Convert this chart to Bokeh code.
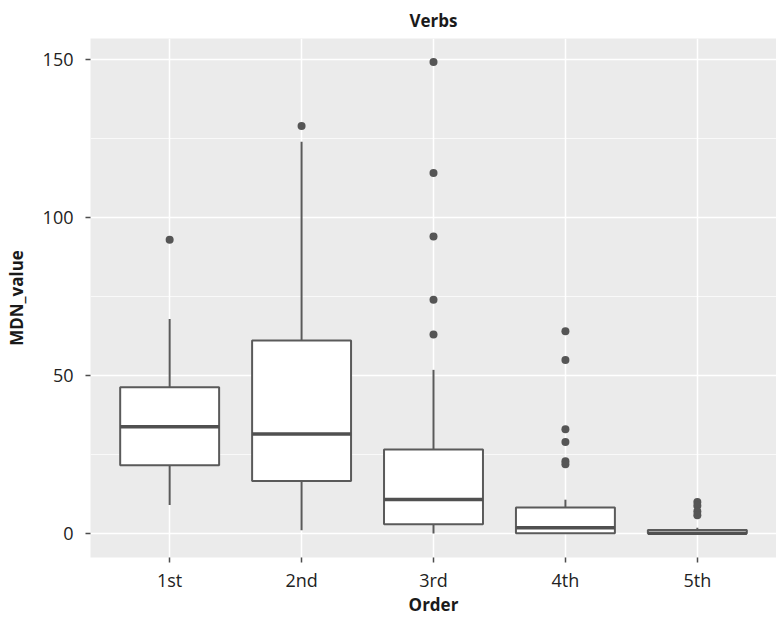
from bokeh.plotting import figure
from bokeh.models import FactorRange, Range1d, FixedTicker, ColumnDataSource
from bokeh.embed import file_html
from bokeh.resources import INLINE

# ---- data ----
orders = ["1st", "2nd", "3rd", "4th", "5th"]
whisker_low = [9, 1, 0, 0, 0]
q1 = [21.6, 16.6, 2.9, 0.1, 0]
median = [33.8, 31.5, 10.8, 1.8, 0.1]
q3 = [46.3, 61.1, 26.6, 8.2, 1.1]
whisker_high = [67.9, 124, 51.8, 10.7, 1.8]

outlier_order = ["1st", "2nd", "3rd", "3rd", "3rd", "3rd", "3rd",
                 "4th", "4th", "4th", "4th", "4th", "4th",
                 "5th", "5th", "5th", "5th"]
outlier_value = [93, 129, 149.3, 114.1, 94.0, 74.0, 63.0,
                 64.0, 54.9, 33.0, 29.0, 22.9, 21.9,
                 10.0, 8.8, 7.0, 5.8]

y_ticks = [0, 50, 100, 150]
y_minor = [25, 75, 125]

FONT = "Open Sans"
LINE = "#5a5a5a"

p = figure(
    x_range=FactorRange(factors=orders, range_padding=0.1, range_padding_units="absolute"),
    y_range=Range1d(-7.6, 156.7),
    width=776, height=618,
    output_backend="svg", toolbar_location=None,
    title="Verbs",
    min_border_left=90, min_border_right=0, min_border_top=38, min_border_bottom=50,
)

p.background_fill_color = "#EBEBEB"
p.border_fill_color = "white"
p.outline_line_color = None

p.title.align = "center"
p.title.vertical_align = "top"
p.title.text_font = FONT
p.title.text_font_size = "17px"
p.title.text_font_style = "bold"
p.title.text_color = "#1a1a1a"

src = ColumnDataSource(dict(x=orders, lo=whisker_low, q1=q1, med=median, q3=q3, hi=whisker_high))

# whiskers
p.segment(x0="x", y0="q3", x1="x", y1="hi", source=src, line_color=LINE, line_width=2)
p.segment(x0="x", y0="lo", x1="x", y1="q1", source=src, line_color=LINE, line_width=2)
# boxes
p.vbar(x="x", bottom="q1", top="q3", width=0.75, source=src,
       fill_color="white", line_color=LINE, line_width=2)
# medians
p.vbar(x="x", bottom="med", top="med", width=0.75, source=src,
       fill_color=None, line_color="#505050", line_width=3.5)
# outliers
p.scatter(x=outlier_order, y=outlier_value, size=8, fill_color="#555555", line_color=None)

# axes
p.yaxis.ticker = FixedTicker(ticks=y_ticks, minor_ticks=y_minor)
for ax in (p.xaxis[0], p.yaxis[0]):
    ax.axis_line_color = None
    ax.major_tick_line_color = "#4d4d4d"
    ax.major_tick_line_width = 1.5
    ax.major_tick_out = 5
    ax.major_tick_in = 0
    ax.minor_tick_line_color = None
    ax.major_label_text_font = FONT
    ax.major_label_text_font_size = "18px"
    ax.major_label_text_color = "#222222"
    ax.axis_label_text_font = FONT
    ax.axis_label_text_font_size = "17px"
    ax.axis_label_text_font_style = "bold"
    ax.axis_label_text_color = "#1a1a1a"

p.xaxis.axis_label = "Order"
p.yaxis.axis_label = "MDN_value"
p.yaxis.major_label_standoff = 12
p.xaxis.major_label_standoff = 5
p.yaxis.axis_label_standoff = 12
p.xaxis.axis_label_standoff = -2

p.xgrid.grid_line_color = "white"
p.xgrid.grid_line_width = 1.5
p.ygrid.grid_line_color = "white"
p.ygrid.grid_line_width = 1.5
p.ygrid.minor_grid_line_color = "white"
p.ygrid.minor_grid_line_width = 0.7

open("out.html", "w").write(file_html(p, INLINE))
